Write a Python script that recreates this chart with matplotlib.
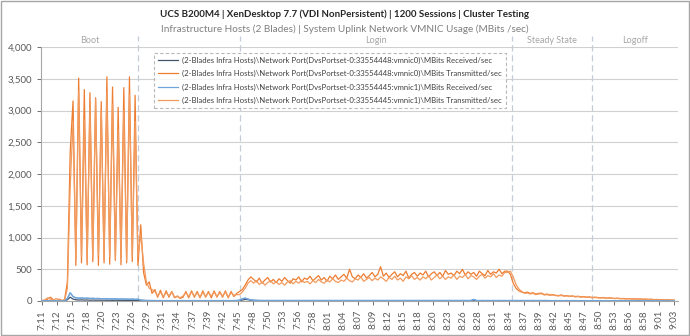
import numpy as np
import matplotlib.pyplot as plt
from matplotlib.patches import Rectangle

plt.rcParams['font.family'] = ['Lato', 'DejaVu Sans']

# samples every 30 s from 7:11 to 9:03
tick_labels = ['7:11', '7:12', '7:15', '7:18', '7:20', '7:23', '7:26', '7:29', '7:31', '7:34',
               '7:37', '7:39', '7:42', '7:45', '7:48', '7:50', '7:53', '7:56', '7:58', '8:01',
               '8:04', '8:07', '8:09', '8:12', '8:15', '8:18', '8:20', '8:23', '8:26', '8:28',
               '8:31', '8:34', '8:37', '8:39', '8:42', '8:45', '8:47', '8:50', '8:53', '8:56',
               '8:58', '9:01', '9:03']

# vmnic0 received (dark blue)
rx_vmnic0 = [
    2, 2, 3, 2, 2, 3, 2, 2, 3, 20,
    60, 30, 20, 15, 18, 14, 16, 12, 15, 12,
    14, 12, 13, 11, 12, 10, 12, 10, 11, 10,
    10, 9, 10, 8, 9, 8, 6, 5, 5, 4,
    4, 4, 5, 4, 4, 5, 4, 4, 5, 4,
    4, 5, 4, 4, 5, 4, 4, 5, 4, 4,
    5, 4, 4, 5, 4, 4, 5, 4, 4, 5,
    5, 15, 25, 20, 12, 8, 6, 5, 5, 5,
    4, 5, 4, 5, 4, 5, 4, 5, 4, 5,
    4, 5, 4, 5, 4, 5, 4, 5, 4, 5,
    4, 5, 4, 5, 4, 5, 4, 5, 4, 5,
    4, 5, 4, 5, 4, 5, 4, 5, 4, 5,
    4, 5, 4, 5, 4, 5, 4, 5, 4, 5,
    4, 5, 4, 5, 4, 5, 4, 5, 4, 5,
    4, 5, 4, 5, 4, 5, 4, 5, 4, 5,
    4, 5, 4, 5, 4, 5, 4, 5, 4, 5,
    4, 5, 4, 5, 4, 5, 4, 5, 4, 5,
    4, 5, 4, 5, 4, 5, 4, 5, 4, 5,
    4, 5, 4, 5, 4, 5, 4, 5, 4, 5,
    4, 5, 4, 5, 4, 5, 4, 5, 4, 5,
    4, 5, 4, 5, 4, 5, 4, 5, 4, 5,
    4, 5, 4, 5, 4, 5, 4, 5, 4, 5,
    4, 5, 4, 5, 4]

# vmnic0 transmitted (orange)
tx_vmnic0 = [
    10, 0, 30, 60, 20, 0, 30, 10, 20, 300,
    2350, 3150, 560, 3510, 600, 3330, 570, 3280, 620, 3200,
    560, 3140, 600, 3530, 580, 3370, 640, 3050, 570, 3360,
    600, 3530, 620, 3240, 560, 1200, 450, 250, 300, 120,
    180, 60, 170, 50, 160, 60, 150, 50, 80, 40,
    60, 150, 50, 160, 60, 150, 50, 160, 60, 150,
    50, 160, 60, 150, 60, 160, 50, 150, 70, 120,
    150, 180, 250, 330, 380, 340, 300, 360, 280, 330,
    370, 300, 340, 290, 350, 310, 370, 320, 280, 350,
    330, 380, 300, 360, 340, 390, 320, 360, 400, 330,
    370, 310, 390, 350, 410, 340, 380, 420, 360, 500,
    380, 350, 410, 370, 430, 360, 400, 450, 380, 420,
    540, 390, 440, 370, 420, 460, 380, 430, 400, 470,
    360, 420, 450, 390, 440, 410, 470, 380, 430, 460,
    400, 450, 390, 480, 420, 440, 400, 470, 430, 500,
    410, 460, 420, 450, 390, 470, 430, 400, 480, 420,
    460, 440, 500, 430, 470, 470, 420, 280, 200, 160,
    140, 130, 140, 120, 130, 110, 120, 125, 100, 110,
    95, 100, 90, 85, 95, 80, 85, 75, 80, 70,
    75, 65, 70, 60, 65, 55, 60, 55, 50, 55,
    45, 50, 45, 40, 45, 38, 40, 35, 38, 32,
    35, 30, 32, 28, 30, 25, 28, 22, 25, 20,
    22, 18, 20, 15, 15]

# vmnic1 received (light blue)
rx_vmnic1 = [
    3, 5, 4, 3, 5, 4, 3, 4, 5, 40,
    130, 70, 50, 45, 48, 42, 45, 40, 42, 38,
    40, 36, 38, 34, 36, 32, 34, 30, 32, 30,
    30, 28, 30, 26, 28, 15, 10, 8, 8, 7,
    7, 6, 7, 6, 7, 6, 7, 6, 7, 6,
    7, 6, 7, 6, 7, 6, 7, 6, 7, 6,
    7, 6, 7, 6, 7, 6, 7, 6, 7, 8,
    12, 35, 45, 30, 18, 12, 10, 9, 8, 8,
    8, 7, 8, 7, 8, 7, 8, 7, 8, 7,
    8, 7, 8, 7, 8, 7, 8, 7, 8, 7,
    8, 7, 8, 7, 8, 7, 8, 7, 8, 7,
    8, 7, 8, 7, 8, 7, 8, 7, 8, 7,
    8, 7, 8, 7, 8, 7, 8, 7, 8, 7,
    8, 7, 8, 7, 8, 7, 8, 7, 8, 7,
    8, 7, 8, 7, 8, 7, 8, 7, 8, 7,
    8, 7, 8, 25, 8, 7, 8, 7, 8, 7,
    8, 7, 8, 7, 8, 7, 8, 7, 8, 7,
    8, 7, 8, 7, 8, 7, 8, 7, 8, 7,
    7, 6, 7, 6, 7, 6, 7, 6, 7, 6,
    6, 5, 6, 5, 6, 5, 6, 5, 6, 5,
    5, 4, 5, 4, 5, 4, 5, 4, 5, 4,
    4, 3, 4, 3, 4, 3, 4, 3, 4, 3,
    3, 3, 3, 3, 3]

# vmnic1 transmitted (light orange)
tx_vmnic1 = [
    5, 20, 50, 30, 10, 40, 20, 0, 10, 200,
    1800, 2830, 650, 3300, 700, 2850, 620, 3050, 680, 3180,
    720, 3000, 650, 3280, 700, 3100, 660, 2700, 690, 3000,
    640, 3250, 700, 2830, 700, 1050, 600, 300, 200, 180,
    150, 80, 140, 70, 130, 80, 140, 60, 70, 50,
    80, 130, 70, 140, 80, 130, 60, 140, 70, 130,
    80, 140, 70, 130, 80, 140, 60, 130, 90, 100,
    100, 140, 200, 280, 320, 280, 320, 260, 300, 250,
    290, 320, 270, 300, 260, 290, 250, 300, 320, 270,
    310, 280, 330, 290, 310, 270, 320, 290, 340, 300,
    280, 330, 300, 350, 310, 290, 330, 310, 360, 320,
    300, 350, 330, 380, 310, 340, 370, 320, 360, 330,
    380, 350, 310, 370, 340, 390, 330, 360, 310, 380,
    350, 400, 340, 370, 330, 380, 350, 400, 330, 370,
    410, 350, 390, 340, 380, 360, 410, 340, 390, 370,
    420, 350, 400, 380, 340, 390, 420, 360, 400, 380,
    430, 370, 410, 390, 450, 450, 470, 380, 260, 190,
    150, 120, 125, 110, 120, 100, 110, 115, 95, 100,
    90, 95, 85, 80, 88, 75, 80, 70, 75, 65,
    70, 60, 65, 58, 60, 50, 55, 50, 48, 50,
    42, 45, 42, 38, 40, 35, 36, 33, 35, 30,
    32, 28, 30, 26, 27, 24, 25, 20, 22, 18,
    20, 16, 18, 14, 12]

phase_names = ['Boot', 'Login', 'Steady State', 'Logoff']
phase_bounds = [34, 70, 166.5, 195]   # sample index of the dashed separators

series_labels = [
    '(2-Blades Infra Hosts)\\Network Port(DvsPortset-0:33554448:vmnic0)\\MBits Received/sec',
    '(2-Blades Infra Hosts)\\Network Port(DvsPortset-0:33554448:vmnic0)\\MBits Transmitted/sec',
    '(2-Blades Infra Hosts)\\Network Port(DvsPortset-0:33554445:vmnic1)\\MBits Received/sec',
    '(2-Blades Infra Hosts)\\Network Port(DvsPortset-0:33554445:vmnic1)\\MBits Transmitted/sec',
]
series_colors = ['#44546A', '#ED7D31', '#6FA5DA', '#F29B5E']

fig = plt.figure(figsize=(6.9, 3.36), dpi=100)
ax = fig.add_axes([41 / 690, 1 - 301 / 336, 637 / 690, 254 / 336])

x = np.arange(len(tx_vmnic0))
for vals, lab, col in zip([rx_vmnic0, tx_vmnic0, rx_vmnic1, tx_vmnic1], series_labels, series_colors):
    ax.plot(x, vals, color=col, lw=0.9, label=lab)
# keep the received lines visible on top
ax.plot(x, rx_vmnic1, color=series_colors[2], lw=0.9, zorder=3)

ax.set_ylim(0, 4000)
ax.set_xlim(-0.35, len(x) - 1 + 1.4)
ax.set_yticks(np.arange(0, 4001, 500))
ax.set_yticklabels([f'{v:,}' for v in range(0, 4001, 500)])
ax.set_xticks(np.linspace(0, len(x) - 1, len(tick_labels)))
ax.set_xticklabels(tick_labels, rotation=90)
ax.tick_params(axis='both', labelsize=7, colors='#595959', length=3, width=0.6)
ax.grid(axis='y', color='#D0D0D0', lw=0.8)
ax.set_axisbelow(True)
for s in ['top', 'right']:
    ax.spines[s].set_visible(False)
for s in ['left', 'bottom']:
    ax.spines[s].set_color('#A6A6A6')
    ax.spines[s].set_linewidth(0.8)

# phase separators and names
for b in phase_bounds:
    ax.plot([b, b], [0, 4170], color='#C4CCD8', lw=0.9, ls=(0, (5, 3)), clip_on=False, zorder=1)
edges = [-0.35] + phase_bounds + [len(x) - 1 + 1.4]
centers = [(edges[0] + edges[1]) / 2, (edges[2] + edges[3]) / 2,
           (edges[3] + edges[4]) / 2, (edges[4] + edges[5]) / 2]
for c, name in zip(centers, phase_names):
    ax.text(c, 4100, name, ha='center', va='center', fontsize=6.5, color='#A6A6A6', clip_on=False)

leg = ax.legend(loc='upper left', bbox_to_anchor=((150 - 41) / 637, (301 - 49) / 254),
                fontsize=5.6, frameon=True, fancybox=False, handlelength=2.6,
                labelspacing=0.8, borderpad=0.5, handletextpad=0.5)
leg.get_frame().set_edgecolor('#A6A6A6')
leg.get_frame().set_linestyle((0, (3, 2)))
leg.get_frame().set_linewidth(0.8)
for t in leg.get_texts():
    t.set_color('#404040')

fig.text(0.5, 1 - 14 / 336, 'UCS B200M4 | XenDesktop 7.7 (VDI NonPersistent) | 1200 Sessions | Cluster Testing',
         ha='center', va='center', fontsize=7.0, fontweight='bold', color='#262626')
fig.text(0.5, 1 - 29 / 336, 'Infrastructure Hosts (2 Blades) | System Uplink Network VMNIC Usage (MBits /sec)',
         ha='center', va='center', fontsize=7.2, color='#7F7F7F')

fig.patches.append(Rectangle((0.001, 0.002), 0.997, 0.995, transform=fig.transFigure,
                             fill=False, edgecolor='#A6A6A6', lw=1))

fig.savefig('out.png', dpi=100)
